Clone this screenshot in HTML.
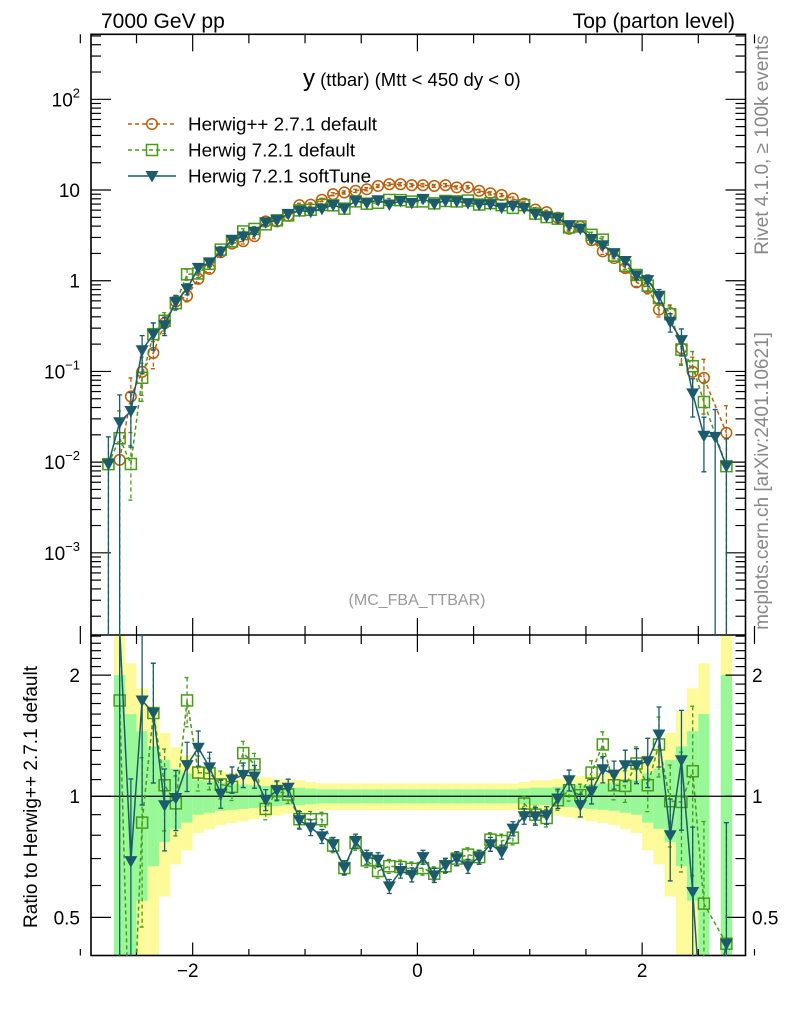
<!DOCTYPE html>
<html><head><meta charset="utf-8"><style>
html,body{margin:0;padding:0;background:#fff;overflow:hidden;width:786px;height:1024px;}
svg{display:block;font-family:"Liberation Sans",sans-serif;}
</style></head><body>
<svg id="chart" width="786" height="1024" viewBox="0 0 786 1024" xmlns="http://www.w3.org/2000/svg">
<defs>
<clipPath id="clipMain"><rect x="91" y="34" width="654.5" height="601"/></clipPath>
<clipPath id="clipRatio"><rect x="91" y="635" width="654.5" height="321"/></clipPath>
</defs>
<g id="bands" clip-path="url(#clipRatio)"></g>
<g id="axes"></g>
<g id="mainSeries" clip-path="url(#clipMain)"></g>
<g id="ratioSeries" clip-path="url(#clipRatio)"></g>
<text x="101" y="28" font-size="21">7000 GeV pp</text>
<text x="735" y="28" font-size="21" text-anchor="end">Top (parton level)</text>
<text x="303" y="86" font-size="18.5"><tspan font-size="24">y</tspan> (ttbar) (Mtt &lt; 450 dy &lt; 0)</text>
<text x="417" y="605" font-size="16" fill="#999" text-anchor="middle">(MC_FBA_TTBAR)</text>
<text transform="translate(768,145) rotate(-90)" font-size="19" fill="#888" text-anchor="middle">Rivet 4.1.0, ≥ 100k events</text>
<text transform="translate(768,481) rotate(-90)" font-size="19" fill="#888" text-anchor="middle">mcplots.cern.ch [arXiv:2401.10621]</text>
<text transform="translate(37,797) rotate(-90)" font-size="19" text-anchor="middle">Ratio to Herwig++ 2.7.1 default</text>
<g id="legend"></g>
</svg>
<script>
const categories=[-2.75,-2.65,-2.55,-2.45,-2.35,-2.25,-2.15,-2.05,-1.95,-1.85,-1.75,-1.65,-1.55,-1.45,-1.35,-1.25,-1.15,-1.05,-0.95,-0.85,-0.75,-0.65,-0.55,-0.45,-0.35,-0.25,-0.15,-0.05,0.05,0.15,0.25,0.35,0.45,0.55,0.65,0.75,0.85,0.95,1.05,1.15,1.25,1.35,1.45,1.55,1.65,1.75,1.85,1.95,2.05,2.15,2.25,2.35,2.45,2.55,2.65,2.75];
const binWidth=0.1;
const refValues=[null,0.0106,0.053,0.099,0.16,0.34,0.59,0.68,1.05,1.35,2.06,2.57,2.73,3.1,4.5,4.5,5.2,6.8,6.9,7.8,9.0,9.4,9.8,10.2,11.1,11.6,11.6,11.3,11.3,11.1,11.3,10.7,10.7,9.8,9.2,8.8,8.05,7.1,6.1,5.7,4.95,3.74,3.94,2.8,2.11,1.78,1.38,0.96,0.83,0.48,0.44,0.18,0.099,0.085,null,0.021];
const greenRatio=[null,1.73,0.18,0.86,1.61,1.065,0.96,1.73,1.145,1.14,1.07,1.055,1.28,1.2,0.93,1.03,1.01,0.877,0.877,0.877,0.754,0.663,0.765,0.693,0.652,0.67,0.667,0.66,0.663,0.642,0.67,0.70,0.716,0.706,0.78,0.774,0.789,0.959,0.9,0.883,0.977,1.035,1.006,1.145,1.345,1.065,1.061,1.206,1.065,1.345,0.972,0.968,1.154,0.541,null,0.43];
const blueRatio=[null,2.6,0.69,1.73,1.61,0.95,0.99,1.195,1.32,1.18,1.015,1.1,1.13,1.12,0.98,1.035,1.05,0.872,0.836,0.795,0.76,0.665,0.774,0.706,0.696,0.597,0.652,0.638,0.706,0.636,0.674,0.70,0.67,0.706,0.76,0.727,0.831,0.892,0.892,0.897,0.987,1.096,0.95,1.029,1.167,1.132,1.194,1.194,1.222,1.424,0.80,1.229,0.578,0.23,null,0.43];
const greenNoRefIdx=[0];
const greenNoRefVal=[0.0095];
const blueNoRefIdx=[0,54];
const blueNoRefVal=[0.0095,0.019];
const relErr=[1,1,0.6,0.45,0.33,0.23,0.17,0.14,0.1,0.09,0.08,0.075,0.07,0.065,0.06,0.055,0.05,0.05,0.045,0.04,0.04,0.04,0.04,0.04,0.04,0.04,0.04,0.04,0.04,0.04,0.04,0.04,0.04,0.04,0.04,0.04,0.04,0.045,0.05,0.05,0.055,0.06,0.065,0.07,0.075,0.08,0.09,0.1,0.14,0.17,0.23,0.33,0.45,0.6,1,1];
const mainTickLabels=["10⁻³","10⁻²","10⁻¹","1","10","10²"];
const mainTickValues=[1e-3,1e-2,1e-1,1,10,100];
const ratioTickLabels=["0.5","1","2"];
const ratioTickValues=[0.5,1,2];
const xTickLabels=["−2","0","2"];
const xTickValues=[-2,0,2];

const NS="http://www.w3.org/2000/svg";
const L=91,R=745.5,MT=34.3,MB=635,RT=635,RB=955.5;
const X0=-2.905,X1=2.92;
const ML0=-3.906,ML1=2.717;
const RL0=Math.log10(0.402),RL1=Math.log10(2.516);
function xs(v){return L+(v-X0)/(X1-X0)*(R-L);}
function ym(v){return MB-(Math.log10(v)-ML0)/(ML1-ML0)*(MB-MT);}
function yr(v){return RB-(Math.log10(v)-RL0)/(RL1-RL0)*(RB-RT);}
function mk(tag,attrs,parent){const e=document.createElementNS(NS,tag);for(const k in attrs)e.setAttribute(k,attrs[k]);parent.appendChild(e);return e;}
const C_OR="#b85f0f",C_GR="#4a9a1a",C_BL="#1b5b6c";

const ax=document.getElementById('axes');
let fr=mk('rect',{x:L,y:MT,width:R-L,height:RB-MT,fill:'none',stroke:'#000','stroke-width':1.6},ax);

let sep=mk('line',{x1:L,x2:R,y1:RT,y2:RT,stroke:'#000','stroke-width':1.4},ax);

let one=mk('line',{x1:L,x2:R,y1:yr(1),y2:yr(1),stroke:'#000','stroke-width':1.3},ax);

for(let d=-4;d<=2;d++){for(let m=1;m<=9;m++){const v=m*Math.pow(10,d);const lv=Math.log10(v);if(lv<ML0||lv>ML1)continue;const y=ym(v);const len=m===1?20:10;
 let t1=mk('line',{x1:L,x2:L+len,y1:y,y2:y,stroke:'#000','stroke-width':1.2},ax);
 let t2=mk('line',{x1:R-len,x2:R,y1:y,y2:y,stroke:'#000','stroke-width':1.2},ax);}}
mainTickValues.forEach((v,i)=>{const lab=mainTickLabels[i];let t=mk('text',{x:80,y:ym(v)+7,'font-size':19,'text-anchor':'end'},ax);
 
 if(lab.startsWith('10')&&lab.length>2){t.textContent='10';let s=mk('tspan',{dy:-9,'font-size':13},t);s.textContent=lab.slice(2).replace('⁻³','−3').replace('⁻²','−2').replace('⁻¹','−1').replace('²','2');}else t.textContent=lab;});
for(let k=4;k<=25;k++){const v=k/10;if(v<0.402||v>2.516)continue;const y=yr(v);const len=(k===5||k===10||k===20)?20:10;
 let t1=mk('line',{x1:L,x2:L+len,y1:y,y2:y,stroke:'#000','stroke-width':1.2},ax);
 let t2=mk('line',{x1:R-len,x2:R,y1:y,y2:y,stroke:'#000','stroke-width':1.2},ax);}
ratioTickValues.forEach((v,i)=>{let t=mk('text',{x:80,y:yr(v)+7,'font-size':19,'text-anchor':'end'},ax);t.textContent=ratioTickLabels[i];
 
 let t2=mk('text',{x:752,y:yr(v)+7,'font-size':19},ax);t2.textContent=ratioTickLabels[i];
 });
for(let k=-6;k<=6;k++){const v=k/2;const x=xs(v);const major=(k%4===0);
 [[MT,1],[MB,-1],[RT,1],[RB,-1]].forEach(([y0,dir])=>{const len=major?(y0===MT||y0===MB?17:13):(y0===MT||y0===MB?9:6.5);
 let t=mk('line',{x1:x,x2:x,y1:y0,y2:y0+dir*len,stroke:'#000','stroke-width':1.2},ax);});}
xTickValues.forEach((v,i)=>{let t=mk('text',{x:xs(v)-(v<0?5:0),y:977,'font-size':19,'text-anchor':'middle'},ax);t.textContent=xTickLabels[i];
 });

const bg=document.getElementById('bands');
categories.forEach((c,i)=>{if(refValues[i]==null)return;const e=relErr[i];const x1=xs(c-binWidth/2),x2=xs(c+binWidth/2);
 const yU=yr(1+1.9*e),yL=yr(Math.max(1-1.9*e,0.05));
 let b=mk('rect',{x:x1,y:yU,width:x2-x1,height:yL-yU,fill:'#fdfb99'},bg);
 const gU=yr(1+e),gL=yr(Math.max(1-e,0.05));
 let g=mk('rect',{x:x1,y:gU,width:x2-x1,height:gL-gU,fill:'#98f898'},bg);});

function marker(parent,type,x,y,col){let m;
 if(type==='circle')m=mk('circle',{cx:x,cy:y,r:5.3,fill:'none',stroke:col,'stroke-width':1.5},parent);
 else if(type==='square')m=mk('rect',{x:x-5.5,y:y-5.5,width:11,height:11,fill:'none',stroke:col,'stroke-width':1.5},parent);
 else m=mk('path',{d:`M${x-6.5},${y-5} L${x+6.5},${y-5} L${x},${y+6.5} Z`,fill:col},parent);
 return m;}
function drawSeries(parent,pts,col,dash,type,name,yf){
 const d=pts.map((p,k)=>(k?'L':'M')+xs(p[0]).toFixed(1)+','+yf(p[1]).toFixed(1)).join(' ');
 let ln=mk('path',{d:d,fill:'none',stroke:col,'stroke-width':1.5,'stroke-dasharray':dash||'none'},parent);
 
 pts.forEach((p,k)=>{const x=xs(p[0]),y=yf(p[1]);const e=p[2];
  const yu=yf(p[1]*(1+e)),yl=yf(Math.max(p[1]*(1-e),1e-9));
  let eb=mk('path',{d:`M${x},${yu} L${x},${yl} M${x-2.5},${yu} L${x+2.5},${yu} M${x-2.5},${yl} L${x+2.5},${yl}`,stroke:col,'stroke-width':1.3,fill:'none','stroke-dasharray':dash||'none'},parent);
  
  let m=marker(parent,type,x,y,col);
  });}
function buildMain(ratio,noIdx,noVal){const pts=[];categories.forEach((c,i)=>{let v=null;
 if(refValues[i]!=null&&ratio[i]!=null)v=refValues[i]*ratio[i];const j=noIdx.indexOf(i);if(j>=0)v=noVal[j];
 if(v!=null)pts.push([c,v,relErr[i]]);});return pts;}
function buildRatio(ratio){const pts=[];categories.forEach((c,i)=>{if(refValues[i]!=null&&ratio[i]!=null)pts.push([c,ratio[i],relErr[i]]);});return pts;}
const ms=document.getElementById('mainSeries');
const refPts=[];categories.forEach((c,i)=>{if(refValues[i]!=null)refPts.push([c,refValues[i],relErr[i]]);});
drawSeries(ms,refPts,C_OR,'4,3','circle','herwigpp-271',ym);
drawSeries(ms,buildMain(greenRatio,greenNoRefIdx,greenNoRefVal),C_GR,'4,3','square','herwig-721-default',ym);
drawSeries(ms,buildMain(blueRatio,blueNoRefIdx,blueNoRefVal),C_BL,null,'tri','herwig-721-softtune',ym);
const rs=document.getElementById('ratioSeries');
drawSeries(rs,buildRatio(greenRatio),C_GR,'4,3','square','ratio-herwig-721-default',yr);
drawSeries(rs,buildRatio(blueRatio),C_BL,null,'tri','ratio-herwig-721-softtune',yr);

const lg=document.getElementById('legend');
[["Herwig++ 2.7.1 default",C_OR,'4,3','circle'],["Herwig 7.2.1 default",C_GR,'4,3','square'],["Herwig 7.2.1 softTune",C_BL,null,'tri']].forEach((e,k)=>{
 const y=124+k*26;const g=mk('g',{},lg);
 
 mk('line',{x1:128,x2:176,y1:y,y2:y,stroke:e[1],'stroke-width':1.5,'stroke-dasharray':e[2]||'none'},g);
 marker(g,e[3],152,y,e[1]);
 const t=mk('text',{x:188,y:y+6.5,'font-size':18.8},g);t.textContent=e[0];});
</script>
</body></html>
